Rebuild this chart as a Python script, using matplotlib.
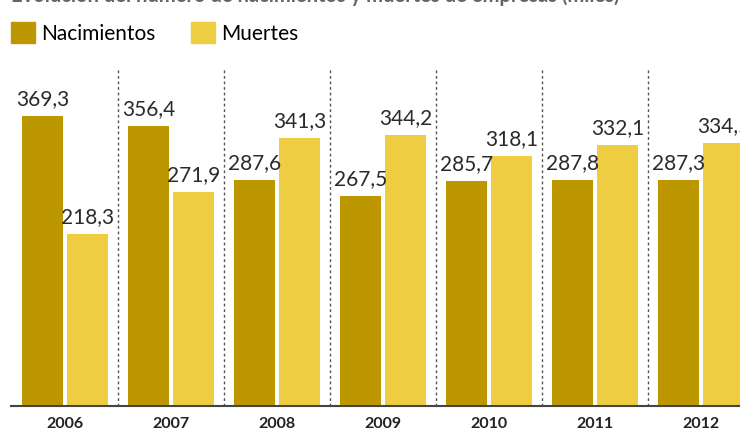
import matplotlib.pyplot as plt
from matplotlib.patches import Patch
import numpy as np

years = ["2006", "2007", "2008", "2009", "2010", "2011", "2012"]
nacimientos = [369.3, 356.4, 287.6, 267.5, 285.7, 287.8, 287.3]
muertes = [218.3, 271.9, 341.3, 344.2, 318.1, 332.1, 334.5]

title = "Evolución del número de nacimientos y muertes de empresas (miles)"
c_nac = "#BC9700"
c_mue = "#EECD42"
font = "Lato"

W, H = 740, 438
fig = plt.figure(figsize=(W / 100, H / 100), dpi=100)
ax = fig.add_axes([11 / W, 32.5 / H, (W - 11) / W, 337.4 / H])

x = np.arange(len(years))
off = 0.212
bw = 0.387
b1 = ax.bar(x - off, nacimientos, bw, color=c_nac)
b2 = ax.bar(x + off, muertes, bw, color=c_mue)

for bars, vals in ((b1, nacimientos), (b2, muertes)):
    for b, v in zip(bars, vals):
        ax.annotate(f"{v:.1f}".replace(".", ","),
                    (b.get_x() + b.get_width() / 2, v),
                    xytext=(0, 5), textcoords="offset points",
                    ha="center", va="bottom", fontsize=15,
                    family=font, color="#2a2a2a", annotation_clip=False)

ax.vlines(x[:-1] + 0.5, 0, 430, colors="#555555", linestyles=(0, (2, 2)), lw=1)

ax.set_xlim(-0.509, 6.368)
ax.set_ylim(0, 430)
ax.set_xticks(x)
ax.set_xticklabels(years, family=font, fontweight="bold", fontsize=11.5, color="#222222")
ax.tick_params(axis="x", length=0, pad=8)
ax.set_yticks([])
for s in ("top", "right", "left"):
    ax.spines[s].set_visible(False)
ax.spines["bottom"].set_color("#444444")
ax.spines["bottom"].set_linewidth(1.5)

fig.text(11 / W, 1 - 2 / H, title, va="baseline", ha="left",
         fontsize=14.5, fontweight="bold", family=font, color="#666666")

handles = [Patch(color=c_nac, label="Nacimientos"), Patch(color=c_mue, label="Muertes")]
fig.legend(handles=handles, loc="upper left", bbox_to_anchor=(11 / W, 1 - 22 / H),
           ncol=2, frameon=False, borderpad=0, borderaxespad=0,
           handlelength=1.15, handleheight=1.2, handletextpad=0.3,
           columnspacing=1.7, prop={"family": font, "size": 15})

fig.savefig("out.png", dpi=100)
